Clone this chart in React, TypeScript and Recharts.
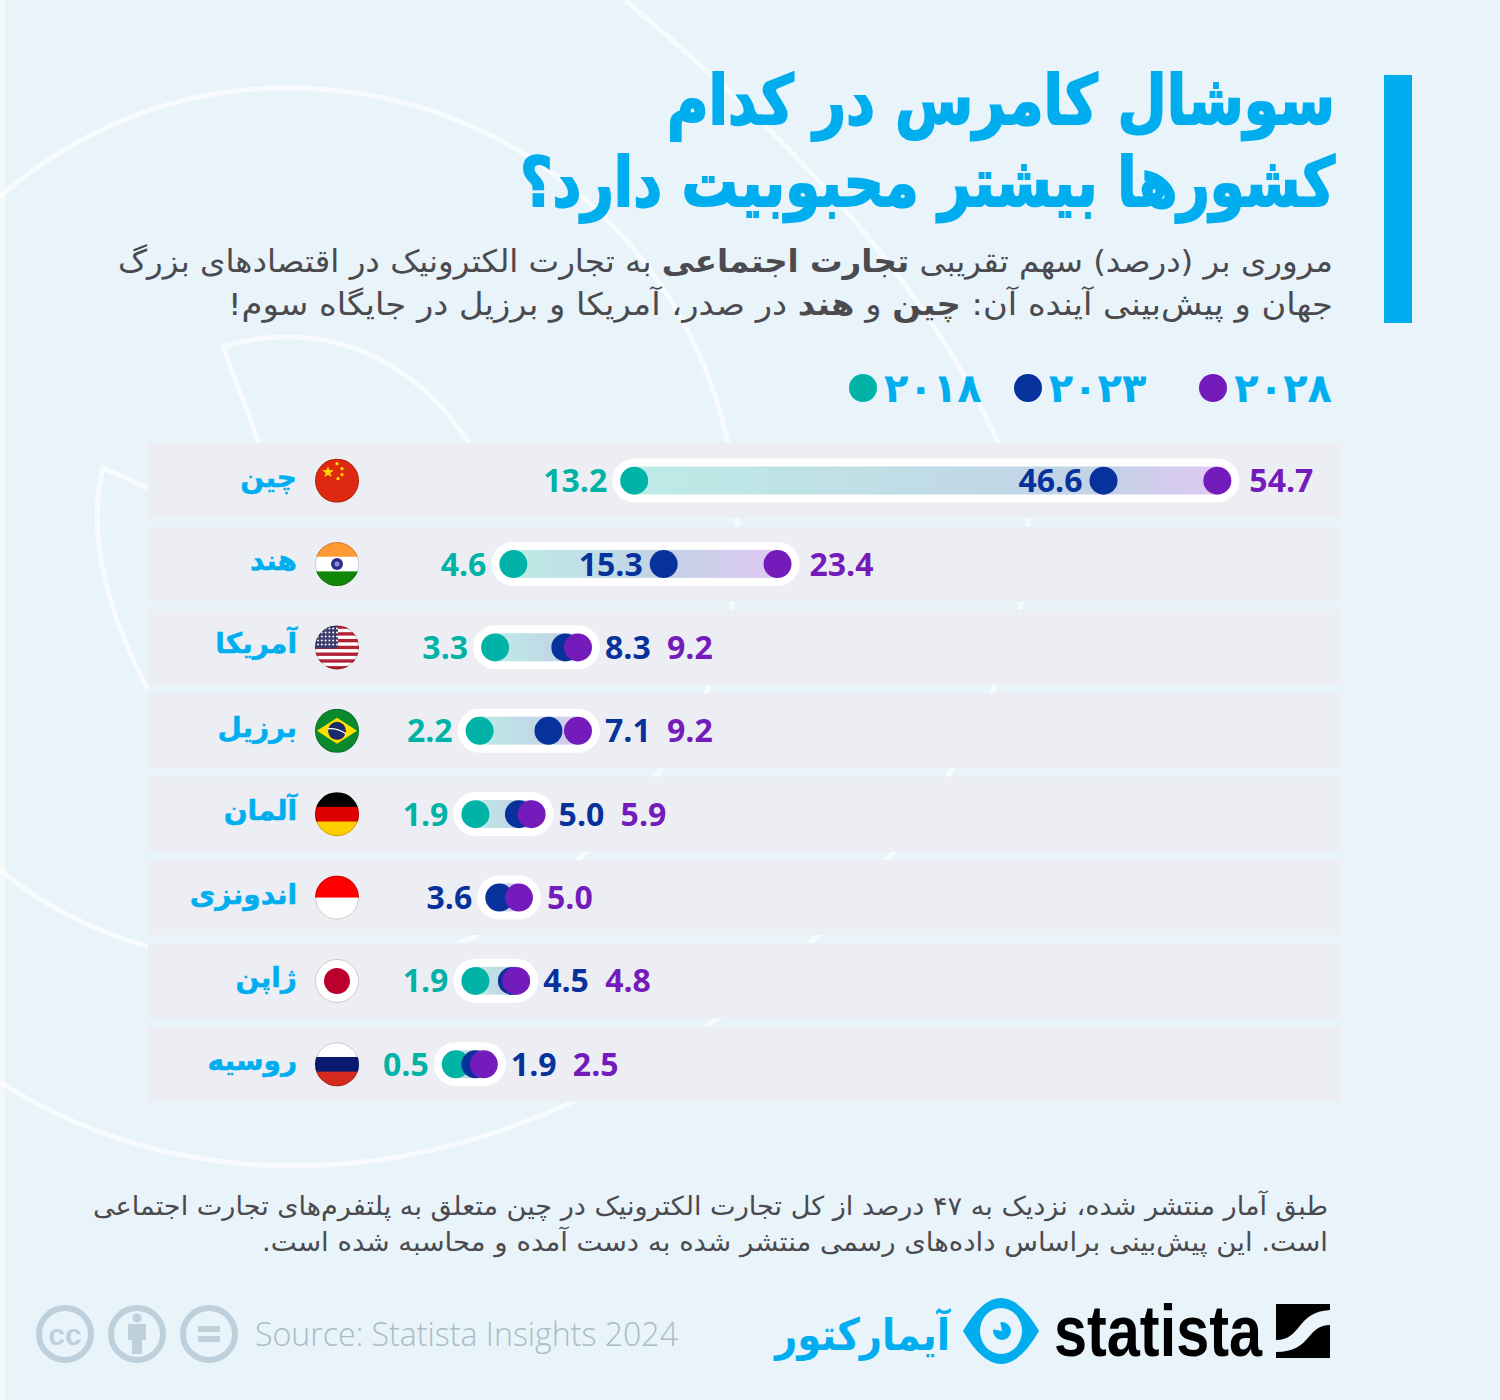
import React from "react";
import { ComposedChart, Bar, Line, XAxis, YAxis, Legend } from "recharts";

const countries = ["چین", "هند", "آمریکا", "برزیل", "آلمان", "اندونزی", "ژاپن", "روسیه"];
const values2018 = [13.2, 4.6, 3.3, 2.2, 1.9, null, 1.9, 0.5];
const values2023 = [46.6, 15.3, 8.3, 7.1, 5.0, 3.6, 4.5, 1.9];
const values2028 = [54.7, 23.4, 9.2, 9.2, 5.9, 5.0, 4.8, 2.5];
const flags = ["cn", "in", "us", "br", "de", "id", "jp", "ru"];
const yearNames = ["۲۰۱۸", "۲۰۲۳", "۲۰۲۸"];

const rows = countries.map((country, i) => ({
  country,
  flag: flags[i],
  y2018: values2018[i],
  y2023: values2023[i],
  y2028: values2028[i],
}));

const TEAL = "#00B3A6";
const NAVY = "#07329B";
const PURPLE = "#741CBB";
const BLUE = "#00AEEF";
const GREY = "#4A4A4F";
const FARSI = "'DejaVu Sans', sans-serif";
const LATIN = "'Open Sans', sans-serif";
const yearColors = [TEAL, NAVY, PURPLE];
const legendGaps = [32, 53, 0];

// 2023 label sits inside the pill when there is room, or when 2018 is missing
const label2023Left = (row: any) => row.y2018 == null || row.y2023 - row.y2018 >= 10;

function labelText(x: number, y: number, value: any, fill: string, anchor: string) {
  return (
    <text x={x} y={y + 11.5} fill={fill} textAnchor={anchor} fontFamily={LATIN} fontWeight={700} fontSize={32}>
      {Number(value).toFixed(1)}
    </text>
  );
}

const pos = (p: any) => (p.viewBox ? p.viewBox : p);

function label2018(p: any) {
  if (p.value == null) return null;
  const v = pos(p);
  return labelText(v.x - 27, v.y, p.value, TEAL, "end");
}

function label2023(p: any) {
  if (p.value == null) return null;
  const v = pos(p);
  const row = rows[p.index];
  if (label2023Left(row)) {
    return labelText(v.x - (row.y2018 == null ? 27 : 21), v.y, p.value, NAVY, "end");
  }
  // sits right of the 2028 dot, which is the last mark of the row
  const shift = (row.y2028 - row.y2023) * (1193 / 84.9);
  return labelText(v.x + shift + 27, v.y, p.value, NAVY, "start");
}

function label2028(p: any) {
  if (p.value == null) return null;
  const v = pos(p);
  const row = rows[p.index];
  const gap = !label2023Left(row) ? 89 : row.y2018 == null ? 28 : 32;
  return labelText(v.x + gap, v.y, p.value, PURPLE, "start");
}

function Pill(p: any) {
  const { x, y, width, height, payload, index } = p;
  const cy = y + height / 2;
  const start = payload.y2018 ?? payload.y2023;
  const mid = payload.y2018 == null ? 0 : (payload.y2023 - start) / (payload.y2028 - start);
  return (
    <g>
      <defs>
        <linearGradient id={`pill-${index}`} x1="0" x2="1" y1="0" y2="0">
          <stop offset="0" stopColor={payload.y2018 == null ? "#C2D2E6" : "#BDEBE6"} />
          <stop offset={mid} stopColor="#C2D2E6" />
          <stop offset="1" stopColor="#DFC9F2" />
        </linearGradient>
      </defs>
      <rect x={x - 22} y={cy - 22} width={width + 44} height={44} rx={22} fill="#FFFFFF" />
      <rect x={x} y={cy - 14} width={width} height={28} fill={`url(#pill-${index})`} />
    </g>
  );
}

function FlagShape({ code, cx, cy }: { code: string; cx: number; cy: number }) {
  const r = 22;
  const l = cx - r;
  const t = cy - r;
  const d = r * 2;
  const band = (i: number, n: number, fill: string) => (
    <rect key={i + fill} x={l} y={t + (d * i) / n} width={d} height={d / n + 0.5} fill={fill} />
  );
  let body: any = null;
  if (code === "cn") {
    body = (
      <g>
        <rect x={l} y={t} width={d} height={d} fill="#DE2910" />
        <text x={cx - 9} y={cy - 4} textAnchor="middle" fontSize={15} fill="#FFDE00" fontFamily={FARSI}>★</text>
        {[[0, -17], [5, -12], [5, -6], [1, -2]].map(([dx, dy]) => (
          <circle key={dy} cx={cx + dx} cy={cy + dy} r={1.6} fill="#FFDE00" />
        ))}
      </g>
    );
  } else if (code === "in") {
    body = (
      <g>
        {band(0, 3, "#FF9933")}
        {band(1, 3, "#FFFFFF")}
        {band(2, 3, "#138808")}
        <circle cx={cx} cy={cy} r={6} fill="#2B2E8C" />
        <circle cx={cx} cy={cy} r={2.5} fill="#8C8FD0" />
      </g>
    );
  } else if (code === "us") {
    const stripes = Array.from({ length: 13 }, (_, i) => band(i, 13, i % 2 ? "#FFFFFF" : "#B22234"));
    const stars = [];
    for (let a = 0; a < 5; a++) {
      for (let b = 0; b < 6; b++) {
        stars.push(<circle key={`${a}-${b}`} cx={l + 3 + b * 3.8} cy={t + 3 + a * 4} r={1} fill="#FFFFFF" />);
      }
    }
    body = (
      <g>
        {stripes}
        <rect x={l} y={t} width={23} height={23} fill="#3C3B6E" />
        {stars}
      </g>
    );
  } else if (code === "br") {
    body = (
      <g>
        <rect x={l} y={t} width={d} height={d} fill="#0A8A2D" />
        <path d={`M${cx - 20} ${cy} L${cx} ${cy - 13} L${cx + 20} ${cy} L${cx} ${cy + 13} Z`} fill="#FFDF00" />
        <circle cx={cx} cy={cy} r={9} fill="#1B2A6B" />
        <path d={`M${cx - 9} ${cy - 2} Q${cx} ${cy - 3} ${cx + 9} ${cy + 3}`} stroke="#FFFFFF" strokeWidth={1.3} fill="none" />
      </g>
    );
  } else if (code === "de") {
    body = (
      <g>
        {band(0, 3, "#000000")}
        {band(1, 3, "#DD0000")}
        {band(2, 3, "#FFCE00")}
      </g>
    );
  } else if (code === "id") {
    body = (
      <g>
        {band(0, 2, "#FF0000")}
        {band(1, 2, "#FFFFFF")}
      </g>
    );
  } else if (code === "jp") {
    body = (
      <g>
        <rect x={l} y={t} width={d} height={d} fill="#FFFFFF" />
        <circle cx={cx} cy={cy} r={13} fill="#BC002D" />
      </g>
    );
  } else if (code === "ru") {
    body = (
      <g>
        {band(0, 3, "#FFFFFF")}
        {band(1, 3, "#0A1A6E")}
        {band(2, 3, "#D52B1E")}
      </g>
    );
  }
  return (
    <g>
      <clipPath id={`flag-${code}`}>
        <circle cx={cx} cy={cy} r={r} />
      </clipPath>
      <g clipPath={`url(#flag-${code})`}>{body}</g>
      <circle cx={cx} cy={cy} r={r - 0.5} fill="none" stroke="#000000" strokeOpacity={0.2} strokeWidth={1} />
    </g>
  );
}

function CountryTick(p: any) {
  const i = p.payload.index;
  return (
    <g>
      <text x={297} y={p.y + 6} direction="rtl" textAnchor="start" fill={BLUE} stroke={BLUE} strokeWidth={0.5} fontFamily={FARSI} fontWeight={700} fontSize={28}>
        {p.payload.value}
      </text>
      <FlagShape code={flags[i]} cx={337} cy={p.y} />
    </g>
  );
}

function LegendRow() {
  return (
    <div style={{ display: "flex", alignItems: "center" }}>
      {yearNames.map((name, i) => (
        <div key={name} style={{ display: "flex", alignItems: "center", gap: 7, marginRight: legendGaps[i] }}>
          <span style={{ width: 28, height: 28, borderRadius: 14, background: yearColors[i], display: "inline-block" }} />
          <span dir="ltr" style={{ color: BLUE, fontFamily: FARSI, fontWeight: 700, fontSize: 40, lineHeight: "48px" }}>
            {name}
          </span>
        </div>
      ))}
    </div>
  );
}

// text fitted to the width it has in the reference
function Fit({ left, right, y, size, weight, fill, family, stroke, tall, children }: any) {
  return (
    <text
      x={(left + right) / 2}
      y={y}
      textAnchor="middle"
      direction="rtl"
      textLength={right - left}
      lengthAdjust="spacingAndGlyphs"
      fontFamily={family || FARSI}
      fontSize={size}
      fontWeight={weight || 400}
      fill={fill}
      stroke={stroke ? fill : undefined}
      strokeWidth={stroke}
      transform={tall ? `translate(0 ${y}) scale(1 ${tall}) translate(0 ${-y})` : undefined}
    >
      {children}
    </text>
  );
}

function Backdrop() {
  const line = { fill: "none", stroke: "#FFFFFF", strokeOpacity: 0.65, strokeWidth: 5 };
  return (
    <svg width={1500} height={1400} style={{ position: "absolute", left: 0, top: 0 }}>
      <path {...line} d="M0 197 A432 432 0 0 1 290 88 A447 447 0 0 1 737 522 C745 700 640 830 474 937 C330 1000 120 970 0 870" />
      <path {...line} d="M625 0 C780 130 960 300 1028 522 C1040 700 850 980 570 1103 C380 1190 170 1190 0 1082" />
      <path {...line} d="M259 443 L223 347 Q290 325 360 350 Q430 380 470 445" />
      <path {...line} d="M148 488 L103 468 Q80 560 148 690" />
    </svg>
  );
}

function Header() {
  return (
    <svg width={1500} height={1400} style={{ position: "absolute", left: 0, top: 0, pointerEvents: "none" }}>
      <rect x={1384} y={75} width={28} height={248} fill={BLUE} />
      <Fit left={667} right={1335} y={124} size={62} tall={1.1} weight={700} fill={BLUE} stroke={1.8}>سوشال کامرس در کدام</Fit>
      <Fit left={520} right={1335} y={206} size={62} tall={1.1} weight={700} fill={BLUE} stroke={1.8}>کشورها بیشتر محبوبیت دارد؟</Fit>
      <Fit left={118} right={1333} y={272} size={31} fill={GREY}>
        مروری بر (درصد) سهم تقریبی <tspan fontWeight={700}>تجارت اجتماعی</tspan> به تجارت الکترونیک در اقتصادهای بزرگ
      </Fit>
      <Fit left={228} right={1333} y={315} size={31} fill={GREY}>
        جهان و پیش‌بینی آینده آن: <tspan fontWeight={700}>چین</tspan> و <tspan fontWeight={700}>هند</tspan> در صدر، آمریکا و برزیل در جایگاه سوم!
      </Fit>
      <Fit left={93} right={1328} y={1215} size={26} fill={GREY}>
        طبق آمار منتشر شده، نزدیک به ۴۷ درصد از کل تجارت الکترونیک در چین متعلق به پلتفرم‌های تجارت اجتماعی
      </Fit>
      <Fit left={262} right={1328} y={1251} size={26} fill={GREY}>
        است. این پیش‌بینی براساس داده‌های رسمی منتشر شده به دست آمده و محاسبه شده است.
      </Fit>

      {/* licence icons */}
      <g fill="none" stroke="#BDD0DC" strokeWidth={6}>
        <circle cx={65} cy={1334} r={26} />
        <circle cx={137} cy={1334} r={26} />
        <circle cx={209} cy={1334} r={26} />
      </g>
      <text x={65} y={1345} textAnchor="middle" fontFamily="'Liberation Sans', sans-serif" fontWeight={700} fontSize={30} fill="#BDD0DC">cc</text>
      <circle cx={137} cy={1318} r={4.5} fill="#BDD0DC" />
      <path d="M128 1324 H146 V1340 H142 V1354 H132 V1340 H128 Z" fill="#BDD0DC" />
      <rect x={198} y={1326} width={22} height={6} fill="#BDD0DC" />
      <rect x={198} y={1336} width={22} height={6} fill="#BDD0DC" />
      <Fit left={255} right={678} y={1346} size={33} weight={300} fill="#A9BCC8" family={LATIN}>
        <tspan direction="ltr">Source: Statista Insights 2024</tspan>
      </Fit>

      {/* aamarketor logo */}
      <Fit left={775} right={950} y={1350} size={44} weight={700} fill={BLUE}>آیمارکتور</Fit>
      <path d="M963 1331 Q982 1298 1001 1298 Q1020 1298 1039 1331 Q1020 1364 1001 1364 Q982 1364 963 1331 Z" fill={BLUE} />
      <ellipse cx={1001} cy={1331} rx={21} ry={23} fill="#E8F3FA" />
      <circle cx={1002} cy={1331} r={9} fill={BLUE} />
      <path d="M1002 1331 L991 1329 L992 1321 L1000 1321 Z" fill="#E8F3FA" />

      {/* statista logo */}
      <text x={1054} y={1356} textLength={208} lengthAdjust="spacingAndGlyphs" fontFamily="'Liberation Sans Narrow', 'Liberation Sans', sans-serif" fontWeight={700} fontSize={72} fill="#000000">statista</text>
      <rect x={1276} y={1304} width={54} height={54} fill="#000000" />
      <path d="M1276 1340 C1302 1340 1296 1312 1330 1310 L1330 1325 C1306 1325 1312 1352 1276 1352 Z" fill="#E8F3FA" />
    </svg>
  );
}

export default function App() {
  return (
    <div style={{ position: "absolute", left: 0, top: 0, width: 1500, height: 1400, overflow: "hidden", background: "#F3F8FB" }}>
      <div style={{ position: "absolute", left: 5, top: 0, width: 1495, height: 1400, background: "#E8F3FA" }} />
      <Backdrop />
      <div style={{ position: "absolute", left: 0, top: 0 }}>
        <ComposedChart
          width={1500}
          height={1400}
          data={rows}
          layout="vertical"
          margin={{ top: 439, right: 159, bottom: 246, left: 148 }}
        >
          <XAxis type="number" hide domain={[-21.4, 63.5]} allowDataOverflow />
          <YAxis
            type="category"
            dataKey="country"
            width={1}
            mirror
            interval={0}
            axisLine={false}
            tickLine={false}
            tick={CountryTick}
          />
          <Bar
            dataKey={(r: any) => [r.y2018 ?? r.y2023, r.y2028]}
            barSize={75}
            background={{ fill: "#ECEEF4" }}
            shape={Pill}
            legendType="none"
            isAnimationActive={false}
          />
          <Line dataKey="y2018" name={yearNames[0]} stroke="none" dot={{ r: 14, fill: TEAL, stroke: "none" }} activeDot={false} label={label2018} isAnimationActive={false} />
          <Line dataKey="y2023" name={yearNames[1]} stroke="none" dot={{ r: 14, fill: NAVY, stroke: "none" }} activeDot={false} label={label2023} isAnimationActive={false} />
          <Line dataKey="y2028" name={yearNames[2]} stroke="none" dot={{ r: 14, fill: PURPLE, stroke: "none" }} activeDot={false} label={label2028} isAnimationActive={false} />
          <Legend content={LegendRow} wrapperStyle={{ position: "absolute", left: 849, top: 364, width: 520, bottom: "auto" }} />
        </ComposedChart>
      </div>
      <Header />
    </div>
  );
}
